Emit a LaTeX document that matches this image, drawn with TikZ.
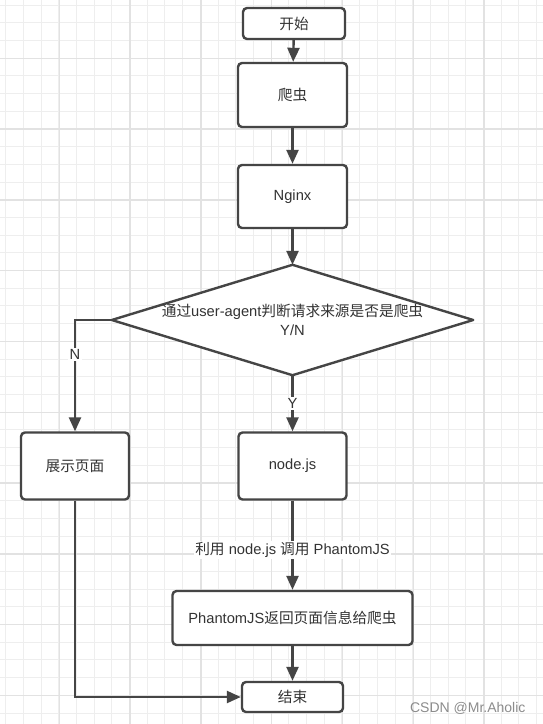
\documentclass[tikz,border=0pt]{standalone}
\usepackage{fontspec}
\setmainfont{Liberation Sans}
\newfontfamily\cjk{Noto Sans CJK SC}
\usetikzlibrary{arrows.meta}
\definecolor{gridminor}{HTML}{EEEEEE}
\definecolor{gridmajor}{HTML}{E2E2E2}
\definecolor{ink}{HTML}{454545}
\definecolor{txt}{HTML}{333333}
\tikzset{
  txtfont/.style={font=\fontsize{14.7pt}{18.5pt}\selectfont},
  box/.style={draw=ink, line width=2.4pt, rounded corners=4pt, fill=white, text=txt,
    txtfont, inner sep=0pt, align=center},
  arr/.style={draw=ink, line width=2.4pt, -{Triangle[length=14pt,width=12pt]}},
  lbl/.style={fill=white, text=txt, txtfont, inner sep=1.5pt},
}
\begin{document}
\begin{tikzpicture}[x=1pt,y=-1pt]
\useasboundingbox (0,0) rectangle (543,724);
\fill[white] (0,0) rectangle (543,724);
% grid
\foreach \i in {0,...,30} \draw[gridminor, line width=1pt] (5.6+17.7*\i,0) -- (5.6+17.7*\i,724);
\foreach \j in {0,...,41} \draw[gridminor, line width=1pt] (0,5+17.7*\j) -- (543,5+17.7*\j);
\foreach \k in {-1,...,7} \draw[gridmajor, line width=1.4pt] (59.3+70.8*\k,0) -- (59.3+70.8*\k,724);
\foreach \k in {-1,...,9} \draw[gridmajor, line width=1.4pt] (0,58.3+70.8*\k) -- (543,58.3+70.8*\k);
% nodes
\node[box, minimum width=102pt, minimum height=31pt] (start) at (294,23.5) {\cjk 开始};
\node[box, minimum width=109pt, minimum height=64pt] (crawler) at (292.5,95) {\cjk 爬虫};
\node[box, minimum width=109pt, minimum height=63pt] (nginx) at (292.5,196.5) {Nginx};
\node[minimum width=361pt, minimum height=110pt, inner sep=0pt] (dec) at (292.5,320) {};
\draw[ink, line width=2.4pt, fill=white, line join=round] (dec.north) -- (dec.east) -- (dec.south) -- (dec.west) -- cycle;
\node[text=txt, txtfont, align=center] (dectext) at (dec.center) {{\cjk 通过}user-agent{\cjk 判断请求来源是否是爬虫}\\Y/N};
\node[box, minimum width=108pt, minimum height=67pt] (show) at (75,466) {\cjk 展示页面};
\node[box, minimum width=108pt, minimum height=67pt] (nodejs) at (292.5,466) {node.js};
\node[box, minimum width=240pt, minimum height=54pt] (phantom) at (292.5,618) {PhantomJS{\cjk 返回页面信息给爬虫}};
\node[box, minimum width=101pt, minimum height=30pt] (end) at (292.5,697) {\cjk 结束};
% connectors
\draw[arr] (start) -- (crawler);
\draw[arr] (crawler) -- (nginx);
\draw[arr] (nginx) -- (dec.north);
\draw[arr] (dec.west) -| node[lbl, pos=0.655] (nlbl) {N} (show.north);
\draw[arr] (dec.south) -- node[lbl, pos=0.5] (ylbl) {Y} (nodejs.north);
\draw[arr] (nodejs.south) -- node[lbl, pos=0.55] (clbl) {{\cjk 利用} node.js {\cjk 调用} PhantomJS} (phantom.north);
\draw[arr] (phantom) -- (end);
\draw[arr] (show.south) |- (end.west);
% watermark
\node[text=black!45, font=\fontsize{14pt}{16pt}\selectfont, anchor=east] (wm) at (529,708) {CSDN @Mr.Aholic};
\end{tikzpicture}
\end{document}
